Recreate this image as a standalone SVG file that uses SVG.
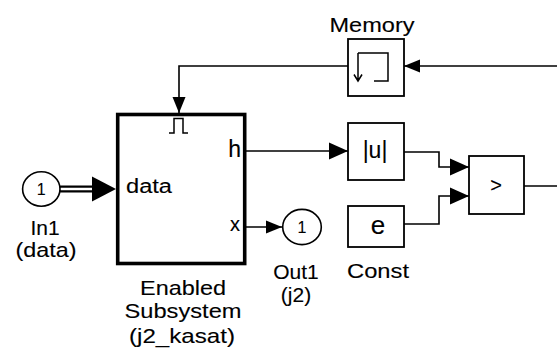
<svg xmlns="http://www.w3.org/2000/svg" width="557" height="351" viewBox="0 0 557 351">
<style>
.blk{fill:#fff;stroke:#000;stroke-width:1.8}
.ln{fill:none;stroke:#000;stroke-width:1.6}
.ic{fill:none;stroke:#000;stroke-width:1.5}
.t{font-family:"Liberation Sans",Arial,sans-serif;font-size:21px;fill:#000;stroke:#000;stroke-width:0.12}
.c{text-anchor:middle}
.e{text-anchor:end}
</style>
<defs>
<marker id="arr" markerUnits="userSpaceOnUse" markerWidth="16" markerHeight="14" refX="16" refY="7" orient="auto">
<path d="M0,0.5 L16,7 L0,13.5 z" fill="#000"/>
</marker>
<marker id="arrL" markerUnits="userSpaceOnUse" markerWidth="19" markerHeight="18" refX="19" refY="9" orient="auto">
<path d="M0,0.5 L19,9 L0,17.5 z" fill="#000"/>
</marker>
</defs>
<rect width="557" height="351" fill="#fff"/>

<g id="connectors">
<path class="ln" d="M557,66 L404,66" marker-end="url(#arr)"/>
<path class="ln" d="M348,66 L179,66 L179,113" marker-end="url(#arr)"/>
<path class="ln" d="M246,151 L348,151" marker-end="url(#arrL)"/>
<path class="ln" d="M246,227 L282,227" marker-end="url(#arr)"/>
<path class="ln" d="M404,152 L439,152 L439,167 L469,167" marker-end="url(#arrL)"/>
<path class="ln" d="M404,224 L439,224 L439,196 L469,196" marker-end="url(#arrL)"/>
<path class="ln" d="M524,186 L557,186"/>
<path d="M61,189 L95,189" stroke="#000" stroke-width="7" stroke-linecap="round" fill="none"/>
<path d="M61,189 L94,189" stroke="#fff" stroke-width="2.6" stroke-linecap="round" fill="none"/>
<path d="M92,176.5 L116,189 L92,201.5 z" fill="#000"/>
</g>

<g id="memory">
<rect class="blk" x="348" y="39" width="56" height="57"/>
<path class="ic" d="M358,53 L358,81 M354,74.5 L358,81 L362,74.5 M358,53 L388,53 L388,81 L374,81"/>
<text class="t c" x="372" y="32" textLength="85" lengthAdjust="spacingAndGlyphs">Memory</text>
</g>

<g id="in1">
<ellipse cx="41.3" cy="189" rx="18.7" ry="17.2" fill="#fff" stroke="#000" stroke-width="1.6"/>
<text class="t c" x="41.3" y="195" style="font-size:16px">1</text>
<text class="t c" x="45" y="235">In1</text>
<text class="t c" x="46" y="257" textLength="61" lengthAdjust="spacingAndGlyphs">(data)</text>
</g>

<g id="enabled_subsystem">
<rect x="117.7" y="114.5" width="127" height="149" fill="#fff" stroke="#000" stroke-width="3.6"/>
<path class="ic" d="M169,133 L174,133 L174,118.5 L183,118.5 L183,133 L188,133"/>
<text class="t" x="126" y="193" style="font-size:20px" textLength="46" lengthAdjust="spacingAndGlyphs">data</text>
<text class="t e" x="241" y="157" style="font-size:23px">h</text>
<text class="t e" x="240" y="231" style="font-size:20px">x</text>
<text class="t c" x="183" y="295" textLength="86" lengthAdjust="spacingAndGlyphs">Enabled</text>
<text class="t c" x="183" y="318" textLength="117" lengthAdjust="spacingAndGlyphs">Subsystem</text>
<text class="t c" x="182" y="343" textLength="106" lengthAdjust="spacingAndGlyphs">(j2_kasat)</text>
</g>

<g id="out1">
<ellipse cx="302" cy="227" rx="19.3" ry="17.6" fill="#fff" stroke="#000" stroke-width="1.6"/>
<text class="t c" x="302" y="233" style="font-size:16px">1</text>
<text class="t c" x="296" y="279">Out1</text>
<text class="t c" x="296" y="302">(j2)</text>
</g>

<g id="abs">
<rect class="blk" x="348" y="123" width="56" height="57"/>
<text class="t c" x="375" y="158" style="font-size:23px">|u|</text>
</g>

<g id="const">
<rect class="blk" x="348" y="206" width="56" height="41"/>
<text class="t c" x="378" y="234" style="font-size:26px">e</text>
<text class="t c" x="378" y="278" textLength="62" lengthAdjust="spacingAndGlyphs">Const</text>
</g>

<g id="relop">
<rect class="blk" x="469" y="156" width="55" height="58"/>
<text class="t c" x="496" y="192" style="font-size:20px">&gt;</text>
</g>
</svg>
